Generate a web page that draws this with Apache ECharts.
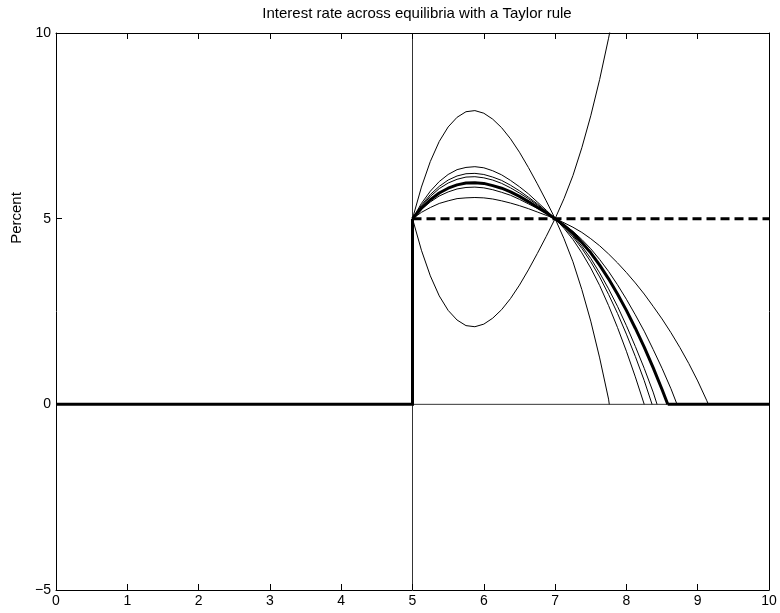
<!DOCTYPE html>
<html>
<head>
<meta charset="utf-8">
<title>Interest rate across equilibria</title>
<script src="https://cdn.jsdelivr.net/npm/echarts@6/dist/echarts.min.js"></script>
<style>
  html, body { margin: 0; padding: 0; background: #fff; }
  #chart { width: 780px; height: 613px; }
</style>
</head>
<body>
<div id="chart"></div>
<script>
// Time grid shared by the equilibrium paths (years)
const tGrid = [5, 5.125, 5.25, 5.375, 5.5, 5.625, 5.75, 5.875, 6, 6.125, 6.25, 6.375, 6.5, 6.625, 6.75, 6.875,
               7, 7.125, 7.25, 7.375, 7.5, 7.625, 7.75, 7.875, 8, 8.125, 8.25, 8.375, 8.5, 8.625, 8.75, 8.875,
               9, 9.125];

// Interest-rate paths (percent) on tGrid, each ending where it reaches the zero bound
const pathA = [5, 5.85, 6.54, 7.08, 7.47, 7.73, 7.88, 7.91, 7.84, 7.68, 7.45, 7.15, 6.79, 6.38, 5.94, 5.48,
               5, 4.46, 3.84, 3.09, 2.24, 1.25, 0.14];
const pathB = [5, 5.41, 5.74, 6.00, 6.19, 6.32, 6.38, 6.40, 6.37, 6.29, 6.18, 6.03, 5.86, 5.67, 5.45, 5.23,
               5, 4.74, 4.44, 4.08, 3.67, 3.20, 2.66, 2.07, 1.43, 0.74];
const pathC = [5, 5.36, 5.65, 5.87, 6.04, 6.15, 6.21, 6.22, 6.19, 6.12, 6.03, 5.90, 5.75, 5.58, 5.40, 5.20,
               5, 4.77, 4.51, 4.20, 3.84, 3.43, 2.96, 2.45, 1.89, 1.29, 0.64];
const pathD = [5, 5.33, 5.60, 5.81, 5.96, 6.06, 6.12, 6.13, 6.10, 6.04, 5.95, 5.83, 5.69, 5.54, 5.37, 5.19,
               5, 4.79, 4.55, 4.26, 3.93, 3.54, 3.11, 2.64, 2.12, 1.56, 0.97, 0.33];
const pathE = [5, 5.25, 5.45, 5.61, 5.72, 5.80, 5.84, 5.85, 5.83, 5.78, 5.71, 5.63, 5.52, 5.40, 5.28, 5.14,
               5, 4.84, 4.66, 4.44, 4.19, 3.90, 3.58, 3.22, 2.83, 2.41, 1.97, 1.48, 0.97, 0.42];
const pathF = [5, 5.17, 5.30, 5.41, 5.48, 5.54, 5.56, 5.57, 5.56, 5.53, 5.48, 5.42, 5.35, 5.27, 5.18, 5.09,
               5, 4.89, 4.77, 4.63, 4.46, 4.27, 4.05, 3.81, 3.55, 3.27, 2.97, 2.64, 2.30, 1.93, 1.53, 1.10,
               0.63, 0.11];
const zeroHits = [7.76, 8.25, 8.36, 8.43, 8.71, 9.15];

// Path that dips below 5 and then explodes upward
const pathLow = [5, 4.15, 3.46, 2.92, 2.53, 2.27, 2.12, 2.09, 2.16, 2.32, 2.55, 2.85, 3.21, 3.62, 4.06, 4.52,
                 5, 5.54, 6.16, 6.91, 7.77, 8.75, 9.86, 11.08];

// Highlighted equilibrium
const pathMain = [5, 5.28, 5.51, 5.69, 5.82, 5.91, 5.96, 5.97, 5.95, 5.89, 5.82, 5.72, 5.60, 5.46, 5.31, 5.16,
                  5, 4.82, 4.61, 4.36, 4.08, 3.75, 3.38, 2.97, 2.53, 2.05, 1.54, 0.99, 0.40];
const zeroMain = 8.58;

// Rate before the path starts, and the steady-state rate
const stepX = [0, 5, 5];
const stepY = [0, 0, 5];
const steadyX = [5, 10];
const steadyY = [5, 5];

// Axis ticks
const xTicks = [0, 1, 2, 3, 4, 5, 6, 7, 8, 9, 10];
const yTicks = [-5, 0, 5, 10];

function zipPath(values, zeroAt) {
  const pts = values.map((v, i) => [tGrid[i], v]);
  if (zeroAt != null) pts.push([zeroAt, 0]);
  return pts;
}

const FONT = '"Liberation Sans", Arial, Helvetica, sans-serif';
const thinPaths = [pathA, pathB, pathC, pathD, pathE, pathF];

const series = [];
// vertical reference at t = 5 and zero line on the right half
series.push({
  type: 'line', data: [[5, yTicks[0]], [5, yTicks[yTicks.length - 1]]],
  symbol: 'none', silent: true, lineStyle: { color: '#000', width: 0.8 }, z: 1
});
series.push({
  type: 'line', data: [[5, 0], [10, 0]],
  symbol: 'none', silent: true, lineStyle: { color: '#000', width: 0.8 }, z: 1
});
thinPaths.forEach((p, i) => {
  series.push({
    type: 'line', data: zipPath(p, zeroHits[i]),
    symbol: 'none', lineStyle: { color: '#000', width: 1 }, z: 2
  });
});
series.push({
  type: 'line', data: zipPath(pathLow, null),
  symbol: 'none', lineStyle: { color: '#000', width: 1 }, z: 2
});
// steady-state rate, dashed
series.push({
  type: 'line', data: steadyX.map((x, i) => [x, steadyY[i]]),
  symbol: 'none', lineStyle: { color: '#000', width: 3, type: [9, 5] }, z: 3
});
// highlighted equilibrium (thick)
series.push({
  type: 'line', data: stepX.map((x, i) => [x, stepY[i]]),
  symbol: 'none', lineStyle: { color: '#000', width: 3, join: 'miter' }, z: 4
});
series.push({
  type: 'line', data: zipPath(pathMain, zeroMain),
  symbol: 'none', lineStyle: { color: '#000', width: 3 }, z: 4
});
series.push({
  type: 'line', data: [[zeroMain, 0], [10, 0]],
  symbol: 'none', lineStyle: { color: '#000', width: 3 }, z: 4
});

const axisCommon = {
  type: 'value',
  axisLine: { show: true, onZero: false, lineStyle: { color: '#000', width: 1 } },
  axisTick: { show: true, inside: true, length: 6, lineStyle: { color: '#000', width: 1 } },
  splitLine: { show: false }
};

const chart = echarts.init(document.getElementById('chart'), null, { renderer: 'canvas' });
chart.setOption({
  animation: false,
  backgroundColor: '#fff',
  title: {
    text: 'Interest rate across equilibria with a Taylor rule',
    left: 412, top: 1, textAlign: 'center',
    textStyle: { fontFamily: FONT, fontSize: 15, fontWeight: 'normal', color: '#000' }
  },
  grid: { left: 56, right: 11, top: 33, bottom: 23, containLabel: false, outerBoundsMode: 'none' },
  graphic: [{
    type: 'text', x: 17, y: 218, rotation: Math.PI / 2,
    style: { text: 'Percent', fontFamily: FONT, fontSize: 15, fill: '#000', align: 'center', verticalAlign: 'middle' }
  }],
  xAxis: [
    Object.assign({}, axisCommon, {
      position: 'bottom', min: xTicks[0], max: xTicks[xTicks.length - 1], interval: 1,
      axisLabel: { color: '#000', fontFamily: FONT, fontSize: 14, margin: 4 }
    }),
    Object.assign({}, axisCommon, {
      position: 'top', min: xTicks[0], max: xTicks[xTicks.length - 1], interval: 1,
      axisLabel: { show: false }
    })
  ],
  yAxis: [
    Object.assign({}, axisCommon, {
      position: 'left', min: yTicks[0], max: yTicks[yTicks.length - 1], interval: 5,
      axisLabel: {
        color: '#000', fontFamily: FONT, fontSize: 14, margin: 5,
        formatter: v => (v < 0 ? '\u2212' + Math.abs(v) : String(v))
      }
    }),
    Object.assign({}, axisCommon, {
      position: 'right', min: yTicks[0], max: yTicks[yTicks.length - 1], interval: 5,
      axisLabel: { show: false }
    })
  ],
  series: series
});
</script>
</body>
</html>
